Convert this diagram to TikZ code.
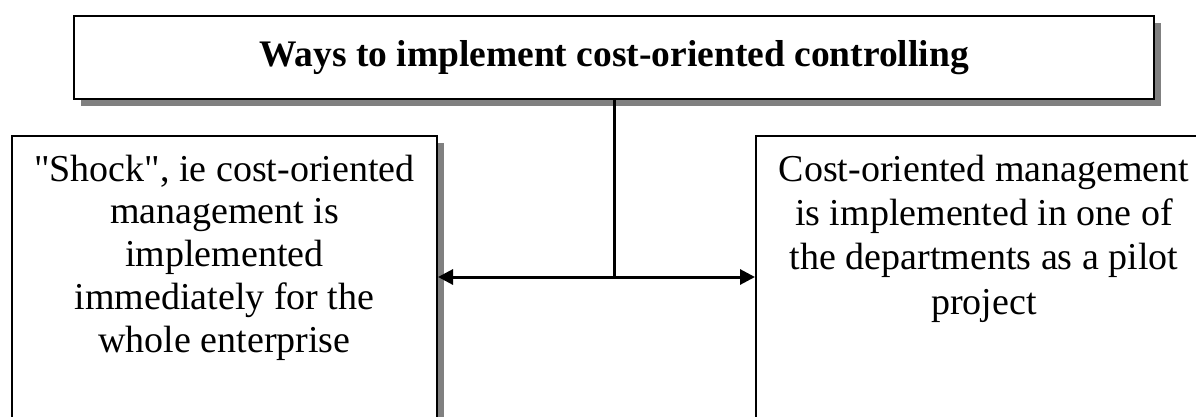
\documentclass[tikz,border=0pt]{standalone}
\usepackage{fontspec}
\setmainfont{Liberation Serif}[Ligatures=TeXOff]
\usetikzlibrary{shadows,arrows.meta}
\tikzset{
  box/.style={draw=black, line width=2pt, fill=white, inner sep=0pt,
    drop shadow={shadow xshift=7pt, shadow yshift=-7pt, fill=gray, opacity=1}},
  conn/.style={line width=3pt, draw=black},
  tip/.style={-{Triangle[length=15pt,width=15pt]}}
}
\begin{document}
\begin{tikzpicture}[x=1pt,y=1pt]
\useasboundingbox (0,0) rectangle (1196,416);
\fill[white] (0,0) rectangle (1196,416);
% title box
\node[box, minimum width=1080pt, minimum height=83pt, font=\bfseries\fontsize{37.5}{45}\selectfont]
  (top) at (614,358.5) {Ways to implement cost-oriented controlling};
% left box
\node[box, anchor=north west] (left) at (11,281)
  {\parbox[t][330pt][t]{425pt}{\centering\fontsize{38}{42.9}\selectfont
   \rule{0pt}{45pt}"Shock", ie cost-oriented\\
   management is\\
   implemented\\
   immediately for the\\
   whole enterprise}};
% right box
\node[box, anchor=north west] (right) at (755,281)
  {\parbox[t][330pt][t]{456pt}{\centering\fontsize{38}{44.4}\selectfont
   \rule{0pt}{45pt}Cost-oriented management\\
   is implemented in one of\\
   the departments as a pilot\\
   project}};
% connectors
\coordinate (j) at (614,139);
\draw[conn] (top.south) -- (j);
\draw[conn, tip] (j) -- (left.east |- j);
\draw[conn, tip] (j) -- (right.west |- j);
\end{tikzpicture}
\end{document}
